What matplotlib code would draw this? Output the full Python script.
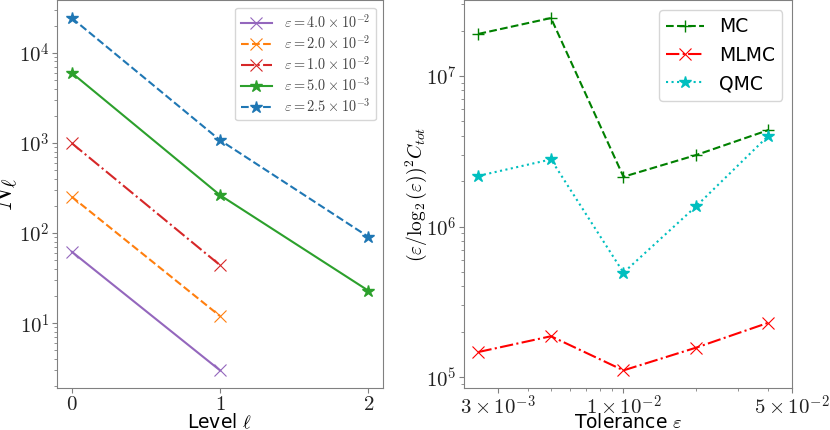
import matplotlib
matplotlib.use("Agg")
import matplotlib.pyplot as plt
from matplotlib.ticker import FuncFormatter
import numpy as np

plt.rcParams['mathtext.fontset'] = 'cm'
plt.rcParams['font.family'] = ['DejaVu Sans']
plt.rcParams['axes.edgecolor'] = '#808080'
plt.rcParams['xtick.color'] = '#808080'
plt.rcParams['ytick.color'] = '#808080'
plt.rcParams['xtick.labelcolor'] = '#222222'
plt.rcParams['ytick.labelcolor'] = '#222222'
plt.rcParams['xtick.major.pad'] = 1.0
plt.rcParams['ytick.major.pad'] = 2

# ---- Left panel data ----
levels = [0, 1, 2]
eps_labels = [r'$\varepsilon = 4.0 \times 10^{-2}$',
              r'$\varepsilon = 2.0 \times 10^{-2}$',
              r'$\varepsilon = 1.0 \times 10^{-2}$',
              r'$\varepsilon = 5.0 \times 10^{-3}$',
              r'$\varepsilon = 2.5 \times 10^{-3}$']
N_eps1 = [62, 3.0]
N_eps2 = [252, 12]
N_eps3 = [990, 44]
N_eps4 = [5960, 263, 23]
N_eps5 = [24200, 1070, 91]

# ---- Right panel data ----
tolerances = [2.5e-3, 5e-3, 1e-2, 2e-2, 4e-2]
cost_mc = [1.90e7, 2.42e7, 2.14e6, 2.98e6, 4.37e6]
cost_mlmc = [1.47e5, 1.87e5, 1.11e5, 1.57e5, 2.30e5]
cost_qmc = [2.17e6, 2.79e6, 4.94e5, 1.36e6, 4.01e6]
xtick_vals = [3e-3, 1e-2, 5e-2]


def decade_fmt(v, pos):
    if v <= 0:
        return ''
    e = np.log10(v)
    if abs(e - round(e)) > 1e-6:
        return ''
    return r'$10^{%d}$' % int(round(e))


def sci_fmt(v, pos):
    e = int(np.floor(np.log10(v) + 1e-9))
    m = v / 10.0 ** e
    return r'$%d \times 10^{%d}$' % (int(round(m)), e)


fig = plt.figure(figsize=(8.3, 4.3), dpi=100)
ax1 = fig.add_axes([0.0687, 0.0977, 0.3928, 0.9013])
ax2 = fig.add_axes([0.559, 0.0977, 0.395, 0.9013])

series = [N_eps1, N_eps2, N_eps3, N_eps4, N_eps5]
colors = ['tab:purple', 'tab:orange', 'tab:red', 'tab:green', 'tab:blue']
styles = ['-', '--', '-.', '-', '--']
markers = ['x', 'x', 'x', '*', '*']
for s, c, ls, m, lab in zip(series, colors, styles, markers, eps_labels):
    ax1.plot(levels[:len(s)], s, color=c, linestyle=ls, marker=m,
             markersize=9, markeredgewidth=0.8 if m == 'x' else 1.0,
             linewidth=1.5, label=lab)
ax1.set_yscale('log')
ax1.yaxis.set_major_formatter(FuncFormatter(decade_fmt))
ax1.set_xticks(levels)
ax1.set_xticklabels([r'$%d$' % l for l in levels])
ax1.tick_params(labelsize=15)
ax1.set_xlabel(r'Level $\ell$', fontsize=13.5)
ax1.xaxis.set_label_coords(0.5, -0.064)
ax1.set_ylabel(r'$N_\ell$', fontsize=21)
ax1.yaxis.set_label_coords(-0.113, 0.5)
leg1 = ax1.legend(loc='upper right', fontsize=10.3, framealpha=0.8,
                  labelspacing=0.22, handlelength=2.2)
for t in leg1.get_texts():
    t.set_color('#444444')

ax2.plot(tolerances, cost_mc, color='g', linestyle='--', marker='+', markersize=9,
         linewidth=1.5, label='MC')
ax2.plot(tolerances, cost_mlmc, color='r', linestyle='-.', marker='x', markersize=9,
         markeredgewidth=0.8, linewidth=1.5, label='MLMC')
ax2.plot(tolerances, cost_qmc, color='c', linestyle=':', marker='*', markersize=9,
         linewidth=1.5, label='QMC')
ax2.set_xscale('log')
ax2.set_yscale('log')
ax2.set_xticks(xtick_vals)
ax2.xaxis.set_major_formatter(FuncFormatter(sci_fmt))
ax2.xaxis.set_minor_formatter(FuncFormatter(lambda v, p: ''))
ax2.yaxis.set_major_formatter(FuncFormatter(decade_fmt))
ax2.tick_params(labelsize=15)
ax2.set_xlabel(r'Tolerance $\varepsilon$', fontsize=13.5)
ax2.xaxis.set_label_coords(0.5, -0.064)
ax2.set_ylabel(r'$(\varepsilon/\log_2(\varepsilon))^2C_{tot}$', fontsize=14)
ax2.yaxis.set_label_coords(-0.108, 0.5)
ax2.legend(loc='upper right', fontsize=13.5, framealpha=0.8)

fig.savefig('out.png', dpi=100)
